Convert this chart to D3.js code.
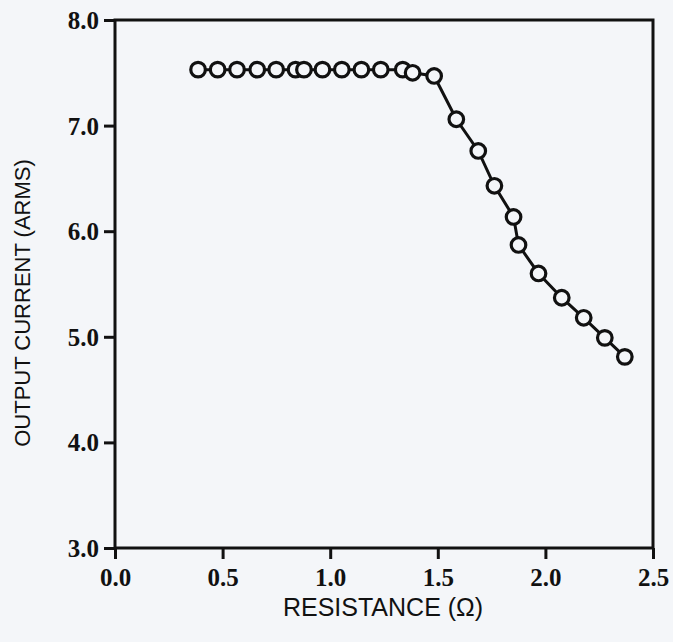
<!DOCTYPE html>
<html lang="en">
<head>
  <meta charset="UTF-8">
  <title>Output current vs resistance</title>
  <style>
    body{ margin: 0; background: #f4f6f9; }
    svg{ display: block; }
  </style>
</head>
<body>
<svg width="673" height="642"></svg>

<script src="https://cdn.jsdelivr.net/npm/d3@7/dist/d3.min.js"></script>
<script>
  // data
  var resistance = [0.386, 0.477, 0.567, 0.661, 0.749, 0.839, 0.878, 0.964, 1.054, 1.145, 1.235, 1.337, 1.383, 1.483,
                    1.586, 1.688, 1.763, 1.852, 1.875, 1.968, 2.076, 2.178, 2.276, 2.369];
  var current = [7.53, 7.53, 7.53, 7.53, 7.53, 7.53, 7.53, 7.53, 7.53, 7.53, 7.53, 7.53, 7.50, 7.47,
                 7.06, 6.76, 6.43, 6.135, 5.87, 5.60, 5.37, 5.18, 4.99, 4.81];
  var xTicks = [0.0, 0.5, 1.0, 1.5, 2.0, 2.5];
  var yTicks = [3.0, 4.0, 5.0, 6.0, 7.0, 8.0];

  var serif = '"Liberation Serif", "Times New Roman", serif';
  var sans = '"Liberation Sans", Arial, sans-serif';

  var marge = {top: 20, right: 20, bottom: 94, left: 115};
  var svg = d3.select('svg'), width = +svg.attr('width'), height = +svg.attr('height');
  var w = width - marge.left - marge.right, h = height - marge.top - marge.bottom;
  var g = svg.append('g').attr('transform', `translate(${marge.left}, ${marge.top})`);

  var x = d3.scaleLinear().domain([0, 2.5]).range([0, w]);
  var y = d3.scaleLinear().domain([3, 8]).range([h, 0]);

  var points = resistance.map(function (r, i) { return {x: r, y: current[i]}; });

  //frame
  g.append('rect').attr('x', 0).attr('y', 0).attr('width', w).attr('height', h)
          .attr('fill', 'none').attr('stroke', '#111').attr('stroke-width', 3);

  //y axis
  var yAxis = d3.axisLeft(y).tickValues(yTicks).tickSize(11).tickFormat(d3.format('.1f'));
  var gy = g.append('g').call(yAxis);
  gy.select('.domain').remove();
  gy.selectAll('line').attr('stroke', '#111').attr('stroke-width', 3);
  gy.selectAll('text').attr('x', -16).attr('dy', '0.34em')
          .style('font-family', serif).style('font-weight', 'bold').style('font-size', '25px').style('fill', '#111');

  //x axis
  var xAxis = d3.axisBottom(x).tickValues(xTicks).tickSize(11).tickFormat(d3.format('.1f'));
  var gx = g.append('g').attr('transform', `translate(0, ${h})`).call(xAxis);
  gx.select('.domain').remove();
  gx.selectAll('line').attr('stroke', '#111').attr('stroke-width', 3);
  gx.selectAll('text').attr('y', 20).attr('dy', '0.71em')
          .style('font-family', serif).style('font-weight', 'bold').style('font-size', '25px').style('fill', '#111');

  //line
  var line = d3.line().x(function (d) { return x(d.x); }).y(function (d) { return y(d.y); });
  g.append('path').datum(points).attr('d', line)
          .attr('fill', 'none').attr('stroke', '#111').attr('stroke-width', 3);

  //markers
  g.append('g').selectAll('circle').data(points).enter().append('circle')
          .attr('cx', function (d) { return x(d.x); })
          .attr('cy', function (d) { return y(d.y); })
          .attr('r', 7.3)
          .attr('fill', '#f4f6f9').attr('stroke', '#111').attr('stroke-width', 3.2);

  //axis titles
  svg.append('text').attr('text-anchor', 'middle')
          .attr('x', marge.left + w / 2 - 1).attr('y', 616)
          .style('font-family', sans).style('font-size', '25px').style('fill', '#111')
          .text('RESISTANCE (Ω)');
  svg.append('text').attr('text-anchor', 'middle')
          .attr('transform', `translate(30, ${marge.top + h / 2 + 19}) rotate(-90)`)
          .style('font-family', sans).style('font-size', '22px').style('fill', '#111')
          .text('OUTPUT CURRENT (ARMS)');
</script>
</body>
</html>
